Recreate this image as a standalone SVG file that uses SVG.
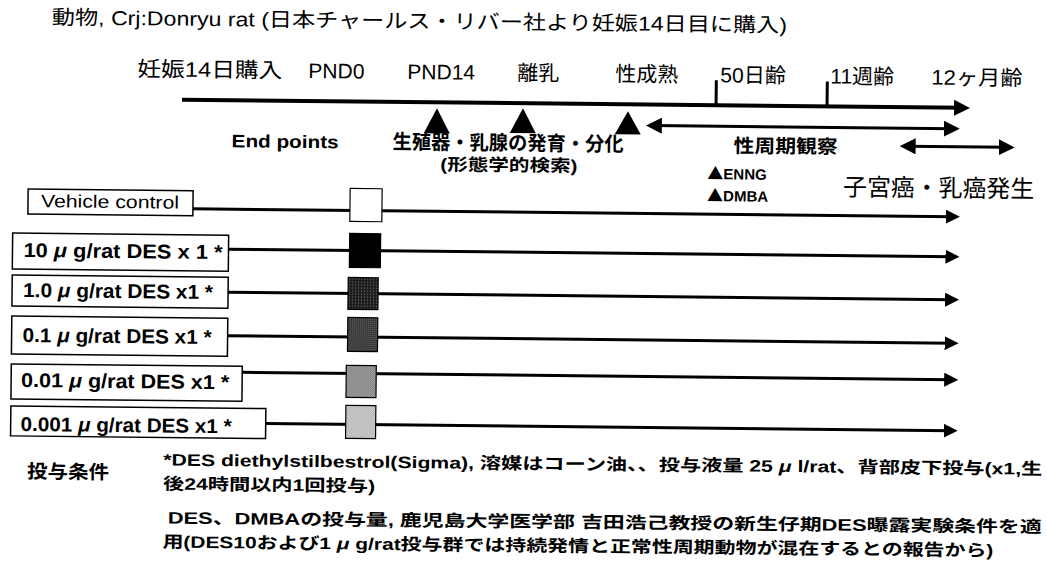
<svg xmlns="http://www.w3.org/2000/svg" width="1047" height="568" viewBox="0 0 1047 568">
<style>
text{font-family:"Liberation Sans","Noto Sans CJK JP",sans-serif;fill:#000}
.b{font-weight:700}
.box{fill:#fff;stroke:#000;stroke-width:1.5}
.sq{stroke:#000;stroke-width:1.2}
.ln{stroke:#000;stroke-width:3;fill:none}
.tl{stroke:#000;stroke-width:4;fill:none}
.mu{font-style:italic}
.tri{font-family:"Noto Sans CJK JP","DejaVu Sans",sans-serif;font-size:16px}
</style>
<defs>
<marker id="ah" viewBox="0 0 14 14" refX="8" refY="7" markerWidth="14" markerHeight="14" markerUnits="userSpaceOnUse" orient="auto-start-reverse">
<path d="M0,0 L14,7 L0,14 z" fill="#000"/>
</marker>
<marker id="ah2" viewBox="0 0 16 16" refX="9" refY="8" markerWidth="16" markerHeight="16" markerUnits="userSpaceOnUse" orient="auto-start-reverse">
<path d="M0,0 L16,8 L0,16 z" fill="#000"/>
</marker>
<pattern id="p3" width="3" height="3" patternUnits="userSpaceOnUse">
<rect width="3" height="3" fill="#1e1e1e"/><rect x="1" y="1" width="1" height="1" fill="#777"/>
</pattern>
<pattern id="p4" width="2" height="2" patternUnits="userSpaceOnUse">
<rect width="2" height="2" fill="#2a2a2a"/><rect width="1" height="1" fill="#8a8a8a"/>
</pattern>
<pattern id="p5" width="2" height="2" patternUnits="userSpaceOnUse">
<rect width="2" height="2" fill="#5a5a5a"/><rect width="1" height="1" fill="#c8c8c8"/><rect x="1" y="1" width="1" height="1" fill="#c8c8c8"/>
</pattern>
<pattern id="p6" width="2" height="2" patternUnits="userSpaceOnUse">
<rect width="2" height="2" fill="#9a9a9a"/><rect width="1" height="1" fill="#e8e8e8"/><rect x="1" y="1" width="1" height="1" fill="#e8e8e8"/>
</pattern>
</defs>
<rect width="1047" height="568" fill="#fff"/>
<g transform="rotate(0.6 500 300)">
<g id="header">
<text x="49" y="29" font-size="20" textLength="735" lengthAdjust="spacingAndGlyphs">動物, Crj:Donryu rat (日本チャールス・リバー社より妊娠14日目に購入)</text>
</g>
<g id="timeline-labels" font-size="21">
<text x="135" y="80" textLength="145" lengthAdjust="spacingAndGlyphs">妊娠14日購入</text>
<text x="306" y="80">PND0</text>
<text x="405" y="80">PND14</text>
<text x="515" y="80">離乳</text>
<text x="613" y="80">性成熟</text>
<text x="718" y="80">50日齢</text>
<text x="828" y="80">11週齢</text>
<text x="929" y="80" textLength="91" lengthAdjust="spacingAndGlyphs">12ヶ月齢</text>
</g>
<g id="connectors">
<line class="tl" x1="180" y1="103" x2="961" y2="103" marker-end="url(#ah2)"/>
<line class="ln" x1="714" y1="78" x2="714" y2="103" stroke-width="2.5"/>
<line class="ln" x1="825" y1="78" x2="825" y2="103" stroke-width="2.5"/>
<line class="ln" x1="651" y1="124" x2="951" y2="124" stroke-width="3.5" marker-start="url(#ah2)" marker-end="url(#ah2)"/>
<line class="ln" x1="905" y1="142" x2="1006" y2="142" stroke-width="3.5" marker-start="url(#ah2)" marker-end="url(#ah2)"/>
<line class="ln" x1="192" y1="212" x2="953" y2="212" marker-end="url(#ah)"/>
<line class="ln" x1="228" y1="252" x2="953" y2="252" marker-end="url(#ah)"/>
<line class="ln" x1="228" y1="295" x2="953" y2="295" marker-end="url(#ah)"/>
<line class="ln" x1="228" y1="338.5" x2="953" y2="338.5" marker-end="url(#ah)"/>
<line class="ln" x1="243" y1="375" x2="953" y2="375" marker-end="url(#ah)"/>
<line class="ln" x1="267" y1="426" x2="953" y2="426" marker-end="url(#ah)"/>
</g>
<g id="markers">
<path d="M422,134 L435,109 L448,134 z" fill="#000"/>
<path d="M508,133 L521,108 L534,133 z" fill="#000"/>
<path d="M613,133 L626,110 L639,133 z" fill="#000"/>
</g>
<g id="endpoints-label">
<text class="b" x="230" y="150" font-size="18" textLength="107" lengthAdjust="spacingAndGlyphs">End points</text>
</g>
<g id="development-label" class="b">
<text x="391" y="150" font-size="20" textLength="231" lengthAdjust="spacingAndGlyphs">生殖器・乳腺の発育・分化</text>
<text x="439" y="171" font-size="17" textLength="137" lengthAdjust="spacingAndGlyphs">(形態学的検索)</text>
</g>
<g id="estrous-label">
<text class="b" x="732" y="150" font-size="19" textLength="104" lengthAdjust="spacingAndGlyphs">性周期観察</text>
</g>
<g id="carcinogens" class="b" font-size="15">
<text x="706" y="177"><tspan class="tri">▲</tspan>ENNG</text>
<text x="706" y="199"><tspan class="tri">▲</tspan>DMBA</text>
</g>
<g id="cancer-label">
<text x="842" y="192" font-size="24" textLength="191" lengthAdjust="spacingAndGlyphs">子宮癌・乳癌発生</text>
</g>
<g id="row-vehicle">
<rect class="box" x="27" y="194" width="165" height="25"/>
<text x="40" y="212" font-size="18" textLength="138" lengthAdjust="spacingAndGlyphs">Vehicle control</text>
<rect class="sq" x="349" y="190" width="32" height="33" fill="#fff"/>
</g>
<g id="row-10">
<rect class="box" x="12" y="238" width="216" height="36"/>
<text class="b" x="23" y="262" font-size="20" textLength="199" lengthAdjust="spacingAndGlyphs">10 <tspan class="mu">μ</tspan> g/rat DES x 1 *</text>
<rect class="sq" x="349" y="235" width="31" height="34" fill="#000"/>
</g>
<g id="row-1">
<rect class="box" x="12" y="280" width="216" height="31"/>
<text class="b" x="23" y="302" font-size="20" textLength="190" lengthAdjust="spacingAndGlyphs">1.0 <tspan class="mu">μ</tspan> g/rat DES x1 *</text>
<rect class="sq" x="348" y="279" width="30" height="32" fill="url(#p3)"/>
</g>
<g id="row-01">
<rect class="box" x="12" y="321" width="216" height="38"/>
<text class="b" x="23" y="347" font-size="20" textLength="189" lengthAdjust="spacingAndGlyphs">0.1 <tspan class="mu">μ</tspan> g/rat DES x1 *</text>
<rect class="sq" x="348" y="319" width="30" height="34" fill="url(#p4)"/>
</g>
<g id="row-001">
<rect class="box" x="12" y="369" width="231" height="35"/>
<text class="b" x="22" y="392" font-size="20" textLength="208" lengthAdjust="spacingAndGlyphs">0.01 <tspan class="mu">μ</tspan> g/rat DES x1 *</text>
<rect class="sq" x="347" y="367" width="30" height="32" fill="url(#p5)"/>
</g>
<g id="row-0001">
<rect class="box" x="12" y="411" width="255" height="30"/>
<text class="b" x="22" y="436" font-size="20" textLength="211" lengthAdjust="spacingAndGlyphs">0.001 <tspan class="mu">μ</tspan> g/rat DES x1 *</text>
<rect class="sq" x="347" y="407" width="30" height="33" fill="url(#p6)"/>
</g>
<g id="conditions" class="b" font-size="16.5">
<text x="29" y="483" font-size="19" textLength="82" lengthAdjust="spacingAndGlyphs">投与条件</text>
<text x="165" y="469" textLength="879" lengthAdjust="spacingAndGlyphs">*DES  diethylstilbestrol(Sigma), 溶媒はコーン油、、投与液量  25 <tspan class="mu">μ</tspan> l/rat、背部皮下投与(x1,生</text>
<text x="165" y="493" textLength="212" lengthAdjust="spacingAndGlyphs">後24時間以内1回投与)</text>
<text x="170" y="527" textLength="874" lengthAdjust="spacingAndGlyphs">DES、DMBAの投与量, 鹿児島大学医学部  吉田浩己教授の新生仔期DES曝露実験条件を適</text>
<text x="165" y="551" textLength="831" lengthAdjust="spacingAndGlyphs">用(DES10および1 <tspan class="mu">μ</tspan> g/rat投与群では持続発情と正常性周期動物が混在するとの報告から)</text>
</g>
</g>
</svg>
